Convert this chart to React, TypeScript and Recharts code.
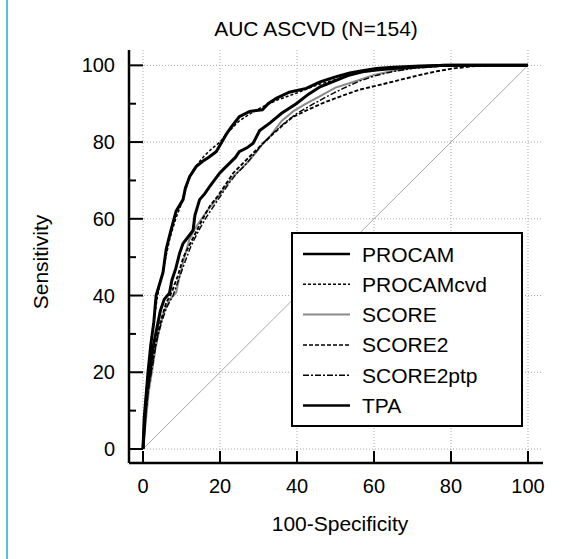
import React from 'react'
import { LineChart, Line, XAxis, YAxis, CartesianGrid, Legend } from 'recharts'

const xTicks = [0, 20, 40, 60, 80, 100]
const yTicks = [0, 10, 20, 30, 40, 50, 60, 70, 80, 90, 100]
const gridValues = [0, 20, 40, 60, 80, 100]

// ROC points: x = 100-Specificity, y = Sensitivity
const procamX = [0, 0.3, 0.8, 1.3, 2.0, 2.8, 3.4, 4.3, 5.2, 6.0, 7.0, 7.8, 8.6, 10.4, 11.0, 12.1, 13.8, 15.5, 17.0, 19.0, 20.3, 21.6, 23.0, 25.0, 27.7, 31.0, 32.5, 34.6, 38.0, 42.4, 46.0, 50.0, 53.7, 57.0, 60.6, 65.0, 72.0, 80.0, 100]
const procamY = [0, 8, 14, 20, 27, 33, 40, 43, 46, 52, 56, 59, 62, 65, 68, 71, 73.6, 75, 76, 77.5, 79.7, 82, 84, 86.6, 88, 88.4, 90, 91.4, 93, 94, 95.7, 97, 98, 98.6, 99.2, 99.5, 99.8, 100, 100]

const procamCvdX = [0, 0.5, 1.2, 2.3, 3.8, 5.5, 7.0, 8.5, 10.0, 11.5, 13.0, 14.5, 16.0, 18.0, 20.0, 22.0, 25.0, 28.0, 31.0, 35.0, 40.0, 45.0, 50.0, 55.0, 60.0, 65.0, 75.0, 82.0, 100]
const procamCvdY = [0, 10, 20, 30, 40, 48, 55, 60, 64, 69, 72.7, 74.7, 76.5, 78.4, 80, 82.5, 85.5, 87.5, 89.2, 91, 92.8, 94.8, 96.3, 97.8, 98.8, 99.3, 99.8, 100, 100]

const scoreX = [0, 0.8, 1.5, 2.3, 3.2, 4.2, 5.5, 7.0, 8.6, 9.5, 10.5, 12.0, 13.5, 15.6, 17.0, 19.0, 21.0, 23.4, 25.5, 27.7, 29.5, 31.2, 33.0, 36.0, 39.0, 42.0, 46.0, 50.0, 55.0, 60.0, 65.0, 72.0, 80.0, 100]
const scoreY = [0, 8, 15, 20, 26, 31, 36, 39, 40.7, 45, 49, 54.5, 57.5, 60.6, 62.5, 65, 67.8, 71, 73, 75.3, 77.5, 79.7, 81.5, 85.5, 88, 89.8, 92, 94.2, 95.8, 97.5, 98.6, 99.5, 100, 100]

const score2X = [0, 0.6, 1.4, 2.2, 3.2, 4.5, 6.0, 7.5, 9.0, 10.5, 12.5, 14.0, 15.5, 17.5, 19.5, 21.5, 23.5, 26.0, 28.5, 31.0, 34.0, 37.0, 39.0, 43.0, 47.0, 51.0, 56.0, 61.5, 66.7, 72.0, 76.0, 80.6, 85.0, 90.0, 100]
const score2Y = [0, 9, 16, 21, 27, 33, 38, 41, 45, 50, 54, 57, 60, 63.5, 66, 69, 72, 74.5, 77, 79.5, 82.3, 85, 86.6, 88.5, 90.3, 91.8, 93.6, 94.9, 96.2, 97.5, 98.4, 99.2, 99.7, 100, 100]

const score2ptpX = [0, 0.7, 1.6, 2.5, 3.5, 4.8, 6.2, 7.8, 9.2, 11.0, 12.5, 14.5, 16.5, 18.5, 20.5, 22.5, 24.5, 27.0, 29.0, 31.5, 34.0, 37.0, 40.0, 44.0, 48.0, 52.0, 56.0, 60.0, 65.0, 70.0, 78.0, 84.0, 100]
const score2ptpY = [0, 9, 17, 22, 28, 33, 37, 40, 44, 49, 53, 57, 60.5, 63.5, 66.5, 69.5, 72, 74.5, 77, 80, 82.5, 85.2, 87.5, 89.8, 92, 94, 95.8, 97.2, 98.4, 99.2, 99.8, 100, 100]

const tpaX = [0, 0.5, 1.0, 1.8, 2.5, 3.5, 4.5, 5.5, 6.9, 7.5, 8.5, 9.5, 10.4, 11.5, 13.0, 13.5, 14.7, 16.0, 17.3, 18.5, 19.9, 21.0, 22.5, 24.0, 25.0, 27.0, 28.6, 30.3, 33.0, 36.0, 39.8, 43.0, 46.0, 50.0, 53.7, 57.0, 60.6, 65.0, 70.0, 78.0, 100]
const tpaY = [0, 8, 15, 20, 26, 31, 36, 39, 40.7, 44, 47, 51, 53.6, 55, 57, 61, 65, 66.5, 68.4, 70, 71.9, 73, 74.5, 76, 77.5, 78.5, 79.7, 83, 85, 87.5, 90, 92.5, 94.4, 96, 97.5, 98.3, 98.8, 99.2, 99.5, 100, 100]

const chanceX = [0, 100]
const chanceY = [0, 100]

const zip = (xs: number[], ys: number[]) => xs.map((x, i) => ({ x, y: ys[i] }))

const series = [
  { name: 'PROCAM', data: zip(procamX, procamY), stroke: '#000', width: 3, legendWidth: 2.5, dash: undefined as string | undefined },
  { name: 'PROCAMcvd', data: zip(procamCvdX, procamCvdY), stroke: '#000', width: 1.5, legendWidth: 1.5, dash: '3 2' },
  { name: 'SCORE', data: zip(scoreX, scoreY), stroke: '#8a8a8a', width: 2, legendWidth: 2, dash: undefined },
  { name: 'SCORE2', data: zip(score2X, score2Y), stroke: '#000', width: 1.9, legendWidth: 1.5, dash: '4 2' },
  { name: 'SCORE2ptp', data: zip(score2ptpX, score2ptpY), stroke: '#000', width: 1.4, legendWidth: 1.4, dash: '6 2 2 2' },
  { name: 'TPA', data: zip(tpaX, tpaY), stroke: '#000', width: 3, legendWidth: 2.5, dash: undefined },
]

// gray one first so the black curves sit on top
const drawOrder = [2, 4, 3, 1, 5, 0]

const FONT = '"Liberation Sans", Arial, sans-serif'

const XTick = (props: any) => {
  const { x, y, payload } = props
  const axisY = y - 16
  return (
    <g>
      <line x1={x} x2={x} y1={axisY} y2={axisY - 12} stroke="#000" strokeWidth={2} />
      <text x={x} y={axisY + 30} textAnchor="middle" fontSize={20} fontFamily={FONT} fill="#000">{payload.value}</text>
    </g>
  )
}

const YTick = (props: any) => {
  const { x, y, payload } = props
  const axisX = x + 14
  const major = payload.value % 20 === 0
  return (
    <g>
      <line x1={axisX} x2={axisX + (major ? 14 : 7)} y1={y} y2={y} stroke="#000" strokeWidth={2} />
      {major && (
        <text x={x} y={y + 7} textAnchor="end" fontSize={20} fontFamily={FONT} fill="#000">{payload.value}</text>
      )}
    </g>
  )
}

const LegendBox = () => (
  <div style={{ width: 232, height: 195, border: '2px solid #000', boxSizing: 'border-box', background: '#fff' }}>
    <svg width={228} height={191}>
      {series.map((s, i) => {
        const cy = 20 + i * 30.3
        return (
          <g key={s.name}>
            <line x1={10} x2={57} y1={cy} y2={cy} stroke={s.stroke} strokeWidth={s.legendWidth} strokeDasharray={s.dash} />
            <text x={69} y={cy + 7.5} fontSize={21} fontFamily={FONT} fill="#000">{s.name}</text>
          </g>
        )
      })}
    </svg>
  </div>
)

export default function App() {
  return (
    <div style={{ position: 'absolute', left: 0, top: 0, width: 563, height: 559, background: '#fff', fontFamily: FONT }}>
      <div style={{ position: 'absolute', left: 6, top: 0, width: 2, height: 559, background: '#5bc0de' }} />
      <div style={{ position: 'absolute', left: 0, top: 18, width: 632, textAlign: 'center', fontSize: 21, lineHeight: '22px', color: '#000' }}>
        AUC ASCVD (N=154)
      </div>
      <LineChart width={563} height={559} margin={{ top: 50, right: 20, bottom: 56, left: 69 }}>
        <CartesianGrid stroke="#a8a8a8" strokeDasharray="1 2" horizontalValues={gridValues} verticalValues={xTicks} />
        <XAxis
          type="number"
          dataKey="x"
          domain={[-3.64, 103.9]}
          ticks={xTicks}
          interval={0}
          allowDataOverflow
          height={40}
          tickSize={0}
          tickMargin={16}
          tickLine={false}
          tick={XTick}
          axisLine={{ stroke: '#000', strokeWidth: 2.5 }}
          label={{
            content: () => (
              <text x={340} y={531} textAnchor="middle" fontSize={21} fontFamily={FONT} fill="#000">100-Specificity</text>
            ),
          }}
        />
        <YAxis
          type="number"
          dataKey="y"
          domain={[-3.65, 104]}
          ticks={yTicks}
          interval={0}
          allowDataOverflow
          width={60}
          tickSize={0}
          tickMargin={14}
          tickLine={false}
          tick={YTick}
          axisLine={{ stroke: '#000', strokeWidth: 2.5 }}
          label={{
            content: () => (
              <text x={48} y={262} transform="rotate(-90 48 262)" textAnchor="middle" fontSize={21} fontFamily={FONT} fill="#000">Sensitivity</text>
            ),
          }}
        />
        <Line
          data={zip(chanceX, chanceY)}
          dataKey="y"
          stroke="#a8a8a8"
          strokeWidth={1}
          dot={false}
          legendType="none"
          isAnimationActive={false}
        />
        {drawOrder.map((i) => {
          const s = series[i]
          return (
            <Line
              key={s.name}
              name={s.name}
              data={s.data}
              dataKey="y"
              type="linear"
              stroke={s.stroke}
              strokeWidth={s.width}
              strokeDasharray={s.dash}
              strokeLinejoin="miter"
              dot={false}
              isAnimationActive={false}
            />
          )
        })}
        <Legend
          layout="vertical"
          align="center"
          verticalAlign="middle"
          content={<LegendBox />}
          wrapperStyle={{ position: 'absolute', left: 291, top: 232, width: 232, height: 195 }}
        />
      </LineChart>
    </div>
  )
}
